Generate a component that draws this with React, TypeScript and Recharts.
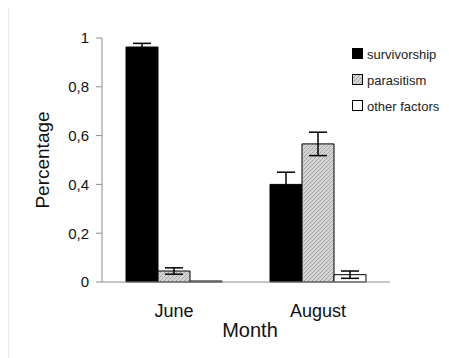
import { BarChart, Bar, XAxis, YAxis, Legend, ErrorBar } from "recharts";

const months = ["June", "August"];
const survivorship = [0.963, 0.4];
const survivorshipErr = [0.015, 0.05];
const parasitism = [0.045, 0.566];
const parasitismErr = [0.013, 0.048];
const otherFactors = [0.004, 0.03];
const otherFactorsErr = [0, 0.015];
const yTicks = [0, 0.2, 0.4, 0.6, 0.8, 1];

const data = months.map((month, i) => ({
  month,
  survivorship: survivorship[i],
  survivorshipErr: survivorshipErr[i],
  parasitism: parasitism[i],
  parasitismErr: parasitismErr[i],
  other: otherFactors[i],
  otherErr: otherFactorsErr[i],
}));

const FONT = "'Liberation Sans', Arial, sans-serif";

const legendItems = [
  { name: "survivorship", fill: "#000" },
  { name: "parasitism", fill: "url(#hatch)" },
  { name: "other factors", fill: "#fff" },
];

function ChartLegend() {
  return (
    <div style={{ fontFamily: FONT, fontSize: 13, color: "#222" }}>
      {legendItems.map((item) => (
        <div
          key={item.name}
          style={{ height: 26, display: "flex", alignItems: "center" }}
        >
          <svg width={12} height={12} style={{ marginRight: 3 }}>
            <rect
              x={0.5}
              y={0.5}
              width={10}
              height={10}
              fill={item.fill}
              stroke="#000"
            />
          </svg>
          <span>{item.name}</span>
        </div>
      ))}
    </div>
  );
}

export default function App() {
  return (
    <div style={{ position: "relative" }}>
      <style>{`body{overflow:hidden;background:#fff}`}</style>
      <div
        style={{
          position: "absolute",
          left: 0,
          top: -3,
          width: 460,
          height: 400,
          border: "1px solid #ececec",
          boxSizing: "border-box",
        }}
      />
      <BarChart
        width={441}
        height={350}
        data={data}
        margin={{ top: 30, right: 59, bottom: 0, left: 0 }}
        barCategoryGap={24}
        barGap={0}
        style={{ fontFamily: FONT }}
      >
        <defs>
          <pattern id="hatch" width="4" height="4" patternUnits="userSpaceOnUse">
            <rect width="4" height="4" fill="#d4d4d4" />
            <rect x="0" y="0" width="1" height="1" fill="#9a9a9a" />
            <rect x="2" y="2" width="1" height="1" fill="#9a9a9a" />
            <rect x="1" y="3" width="1" height="1" fill="#b0b0b0" />
            <rect x="3" y="1" width="1" height="1" fill="#b0b0b0" />
          </pattern>
        </defs>
        <XAxis
          dataKey="month"
          height={76}
          tickLine={false}
          tickSize={0}
          tickMargin={22}
          stroke="#8c8c8c"
          tick={{ fill: "#111", fontSize: 18, fontFamily: FONT }}
          label={{
            value: "Month",
            position: "insideBottom",
            offset: 21,
            fill: "#111",
            fontSize: 20,
            fontFamily: FONT,
            dx: 4,
          }}
        />
        <YAxis
          width={94}
          domain={[0, 1]}
          ticks={yTicks}
          tickSize={6}
          tickMargin={7}
          stroke="#8c8c8c"
          tickFormatter={(v: number) => String(v).replace(".", ",")}
          tick={{ fill: "#111", fontSize: 15, fontFamily: FONT }}
          label={{
            value: "Percentage",
            angle: -90,
            position: "insideLeft",
            offset: 34,
            fill: "#111",
            fontSize: 19,
            fontFamily: FONT,
            style: { textAnchor: "middle" },
          }}
        />
        <Legend
          layout="vertical"
          align="center"
          verticalAlign="middle"
          content={() => <ChartLegend />}
          wrapperStyle={{ left: 344, top: 33, width: 100, height: 80 }}
        />
        <Bar
          dataKey="survivorship"
          name="survivorship"
          fill="#000"
          stroke="#000"
          isAnimationActive={false}
        >
          <ErrorBar dataKey="survivorshipErr" width={9} stroke="#000" strokeWidth={1.5} />
        </Bar>
        <Bar
          dataKey="parasitism"
          name="parasitism"
          fill="url(#hatch)"
          stroke="#000"
          isAnimationActive={false}
        >
          <ErrorBar dataKey="parasitismErr" width={9} stroke="#000" strokeWidth={1.5} />
        </Bar>
        <Bar
          dataKey="other"
          name="other factors"
          fill="#fff"
          stroke="#000"
          isAnimationActive={false}
        >
          <ErrorBar dataKey="otherErr" width={9} stroke="#000" strokeWidth={1.5} />
        </Bar>
      </BarChart>
    </div>
  );
}
